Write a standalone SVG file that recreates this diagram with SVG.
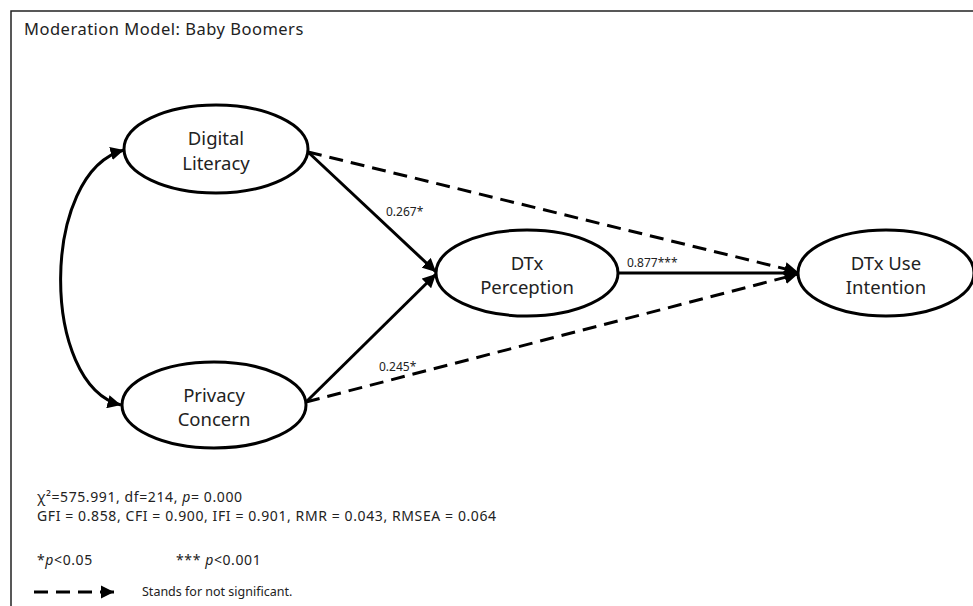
<svg xmlns="http://www.w3.org/2000/svg" width="973" height="606" viewBox="0 0 973 606">
  <style>
    .frame { fill: none; stroke: #222; stroke-width: 1.5; }
    .node ellipse { fill: #fff; stroke: #000; stroke-width: 3; }
    .node text { font-family: "Noto Sans", "Open Sans", sans-serif; font-size: 18.5px; fill: #222; text-anchor: middle; }
    .path { fill: none; stroke: #000; stroke-width: 3; }
    .ns { stroke-dasharray: 14 8; }
    .coef { font-family: "Noto Sans", "Open Sans", sans-serif; font-size: 12px; fill: #222; }
    .legend { font-family: "Noto Sans", "Open Sans", sans-serif; font-size: 12.5px; fill: #222; }
    .note { font-family: "Noto Sans", "Open Sans", sans-serif; font-size: 14px; letter-spacing: 0.6px; fill: #222; }
    .title { font-family: "Noto Sans", "Open Sans", sans-serif; font-size: 16.5px; letter-spacing: 0.5px; fill: #222; }
  </style>
  <defs>
    <marker id="arrow" viewBox="0 0 10 10" refX="10" refY="5" markerWidth="4.5" markerHeight="4.5" orient="auto-start-reverse" markerUnits="strokeWidth">
      <path d="M0,0 L10,5 L0,10 z" fill="#000"/>
    </marker>
  </defs>

  <rect width="973" height="606" fill="#fff"/>
  <path class="frame" d="M11,606 V11 H973"/>
  <text class="title" x="24" y="35">Moderation Model: Baby Boomers</text>

  <!-- connectors -->
  <g id="connectors">
    <path class="path" d="M124,150 C40,172 40,385 121,405" marker-start="url(#arrow)" marker-end="url(#arrow)"/>
    <path class="path" d="M308,152 L436,272" marker-end="url(#arrow)"/>
    <path class="path" d="M306,402 L436,274" marker-end="url(#arrow)"/>
    <path class="path ns" d="M308,152 L798,272" marker-end="url(#arrow)"/>
    <path class="path ns" d="M306,402 L798,274" marker-end="url(#arrow)"/>
    <path class="path" d="M618,273 L798,273" marker-end="url(#arrow)"/>
    <text class="coef" x="386" y="216">0.267*</text>
    <text class="coef" x="379" y="371">0.245*</text>
    <text class="coef" x="627" y="267">0.877***</text>
  </g>

  <g id="digital-literacy" class="node">
    <ellipse cx="216" cy="149" rx="92" ry="44"/>
    <text x="216" y="145">Digital</text>
    <text x="216" y="170">Literacy</text>
  </g>
  <g id="privacy-concern" class="node">
    <ellipse cx="214" cy="405" rx="92" ry="43"/>
    <text x="214" y="402">Privacy</text>
    <text x="214" y="426">Concern</text>
  </g>
  <g id="dtx-perception" class="node">
    <ellipse cx="527" cy="273" rx="91" ry="43"/>
    <text x="527" y="270">DTx</text>
    <text x="527" y="294">Perception</text>
  </g>
  <g id="dtx-use-intention" class="node">
    <ellipse cx="886" cy="273" rx="88" ry="43"/>
    <text x="886" y="270">DTx Use</text>
    <text x="886" y="294">Intention</text>
  </g>

  <!-- fit indices and legend -->
  <text class="note" x="37" y="502">χ²=575.991, df=214, <tspan font-style="italic">p</tspan>= 0.000</text>
  <text class="note" x="37" y="521">GFI = 0.858, CFI = 0.900, IFI = 0.901, RMR = 0.043, RMSEA = 0.064</text>
  <text class="note" x="37" y="565">*<tspan font-style="italic">p</tspan>&lt;0.05</text>
  <text class="note" x="176" y="565">*** <tspan font-style="italic">p</tspan>&lt;0.001</text>
  <path class="path ns" d="M34,592 L114,592" marker-end="url(#arrow)"/>
  <text class="legend" x="142" y="596">Stands for not significant.</text>
</svg>
